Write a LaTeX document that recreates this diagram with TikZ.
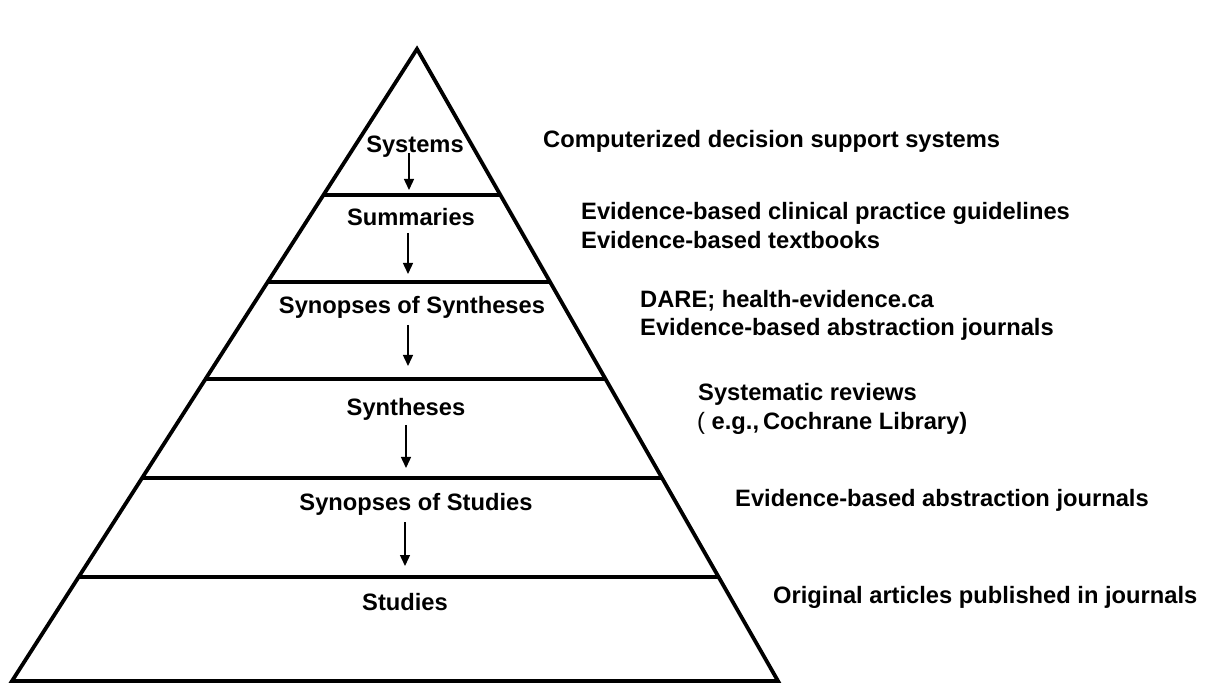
\documentclass[tikz,border=0pt]{standalone}
\usepackage{fontspec}
\setmainfont{Liberation Sans}
\usetikzlibrary{arrows.meta}
\begin{document}
\begin{tikzpicture}[x=1pt,y=-1pt,
  lab/.style={font=\bfseries\fontsize{23.7pt}{28pt}\selectfont, inner sep=0pt, anchor=base},
  note/.style={font=\bfseries\fontsize{23.7pt}{28pt}\selectfont, inner sep=0pt, anchor=base west},
  layer/.style={line width=3.8pt, line join=miter},
  flow/.style={line width=1.4pt, -{Triangle[length=11pt,width=10pt]}}]
\useasboundingbox[fill=white] (0,0) rectangle (1208,684);

% pyramid outline
\coordinate (apex) at (417,49);
\coordinate (bl) at (12,681);
\coordinate (br) at (778,681);
\draw[layer] (bl) -- (apex) -- (br) -- cycle;

% layer separators
\coordinate (l1a) at (323.4,195); \coordinate (l1b) at (500.4,195);
\coordinate (l2a) at (267.7,282); \coordinate (l2b) at (550.1,282);
\coordinate (l3a) at (205.5,379); \coordinate (l3b) at (605.5,379);
\coordinate (l4a) at (142.1,478); \coordinate (l4b) at (662.0,478);
\coordinate (l5a) at (78.7,577);  \coordinate (l5b) at (718.6,577);
\draw[layer] (l1a) -- (l1b);
\draw[layer] (l2a) -- (l2b);
\draw[layer] (l3a) -- (l3b);
\draw[layer] (l4a) -- (l4b);
\draw[layer] (l5a) -- (l5b);

% level labels
\node[lab] (sys) at (415,153) {Systems};
\node[lab] (sum) at (411,226) {Summaries};
\node[lab] (sos) at (412,314) {Synopses of Syntheses};
\node[lab] (syn) at (406,416) {Syntheses};
\node[lab] (sst) at (416,510) {Synopses of Studies};
\node[lab] (stu) at (405,610) {Studies};

% arrows
\coordinate (a1s) at (409,153); \coordinate (a1e) at (409,190);
\coordinate (a2s) at (408,233); \coordinate (a2e) at (408,274);
\coordinate (a3s) at (408,325); \coordinate (a3e) at (408,366);
\coordinate (a4s) at (406,425); \coordinate (a4e) at (406,468);
\coordinate (a5s) at (405,522); \coordinate (a5e) at (405,566);
\draw[flow] (a1s) -- (a1e);
\draw[flow] (a2s) -- (a2e);
\draw[flow] (a3s) -- (a3e);
\draw[flow] (a4s) -- (a4e);
\draw[flow] (a5s) -- (a5e);

% examples
\node[note] (e1) at (543,148) {Computerized decision support systems};
\node[note] (e2a) at (581,220) {Evidence-based clinical practice guidelines};
\node[note] (e2b) at (581,249) {Evidence-based textbooks};
\node[note] (e3a) at (640,308) {DARE; health-evidence.ca};
\node[note] (e3b) at (640,336) {Evidence-based abstraction journals};
\node[note] (e4a) at (698,401) {Systematic reviews};
\node[note] (e4b) at (697,430) {{\mdseries(} e.g.,{\kern4pt}Cochrane Library)};
\node[note] (e5) at (735,506) {Evidence-based abstraction journals};
\node[note] (e6) at (773,603) {Original articles published in journals};
\end{tikzpicture}
\end{document}
